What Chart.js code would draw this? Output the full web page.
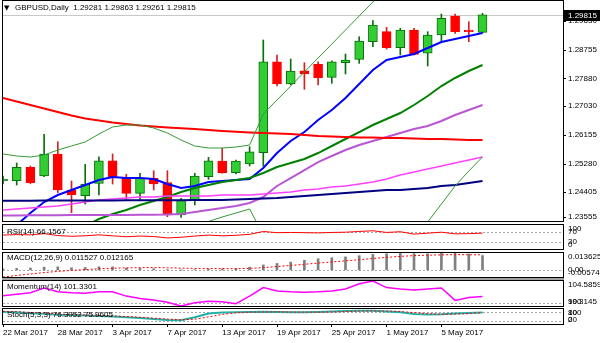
<!DOCTYPE html>
<html>
<head>
<meta charset="utf-8">
<script src="https://cdn.jsdelivr.net/npm/chart.js@4.4.1/dist/chart.umd.min.js"></script>
<style>
html, body { margin: 0; padding: 0; background: #fff; }
#wrap { position: relative; width: 600px; height: 343px; overflow: hidden; }
#wrap canvas { position: absolute; left: 0; top: 0; }
#band { position: absolute; left: 2px; top: 277px; width: 562px; height: 4px; background: #a0a0a0; }
</style>
</head>
<body>
<div id="wrap">
  <div id="band"></div>
  <canvas id="mainChart" width="600" height="343"></canvas>
  <canvas id="rsiChart" width="600" height="343"></canvas>
  <canvas id="macdChart" width="600" height="343"></canvas>
  <canvas id="momChart" width="600" height="343"></canvas>
  <canvas id="stochChart" width="600" height="343"></canvas>
</div>
<script>
// GBPUSD daily, 22 Mar - 10 May 2017
const dates = ["22 Mar 2017", "23 Mar 2017", "24 Mar 2017", "27 Mar 2017", "28 Mar 2017", "29 Mar 2017", "30 Mar 2017", "31 Mar 2017",
    "3 Apr 2017", "4 Apr 2017", "5 Apr 2017", "6 Apr 2017", "7 Apr 2017", "10 Apr 2017", "11 Apr 2017", "12 Apr 2017",
    "13 Apr 2017", "14 Apr 2017", "17 Apr 2017", "18 Apr 2017", "19 Apr 2017", "20 Apr 2017", "21 Apr 2017", "24 Apr 2017",
    "25 Apr 2017", "26 Apr 2017", "27 Apr 2017", "28 Apr 2017", "1 May 2017", "2 May 2017", "3 May 2017", "4 May 2017",
    "5 May 2017", "8 May 2017", "9 May 2017", "10 May 2017"];

const openP = [1.24745, 1.24755, 1.25164, 1.24898, 1.25570, 1.24471, 1.24297, 1.24675, 1.25365, 1.24828, 1.24370, 1.24828,
    1.24694, 1.23708, 1.24144, 1.24877, 1.25356, 1.24999, 1.25264, 1.25609, 1.28387, 1.27706, 1.28112, 1.28308,
    1.27911, 1.28357, 1.28460, 1.28998, 1.29303, 1.28815, 1.29355, 1.28644, 1.29202, 1.29782, 1.29355, 1.29281];
const highP = [1.24898, 1.25295, 1.25203, 1.26171, 1.25945, 1.24745, 1.25255, 1.25487, 1.25570, 1.24950, 1.24981, 1.25060,
    1.25060, 1.24217, 1.24981, 1.25469, 1.25744, 1.25387, 1.25793, 1.29050, 1.28592, 1.28470, 1.28357, 1.28387,
    1.28409, 1.28622, 1.29150, 1.29639, 1.29437, 1.29407, 1.29407, 1.29303, 1.29843, 1.29843, 1.29608, 1.29863];
const lowP = [1.24654, 1.24623, 1.24660, 1.24877, 1.24388, 1.23778, 1.24043, 1.24318, 1.24654, 1.24187, 1.24187, 1.24471,
    1.23656, 1.23637, 1.24013, 1.24797, 1.24981, 1.24959, 1.25203, 1.25203, 1.27645, 1.27680, 1.27545, 1.27676,
    1.27728, 1.28012, 1.28338, 1.28845, 1.28775, 1.28592, 1.28592, 1.28256, 1.28967, 1.29254, 1.28998, 1.29261];
const closeP = [1.24807, 1.25164, 1.24694, 1.25570, 1.24471, 1.24318, 1.24654, 1.25365, 1.24846, 1.24370, 1.24828, 1.24654,
    1.23708, 1.24166, 1.24898, 1.25365, 1.24999, 1.25356, 1.25640, 1.28387, 1.27706, 1.28103, 1.28012, 1.27899,
    1.28387, 1.28439, 1.29019, 1.29507, 1.28815, 1.29355, 1.28613, 1.29202, 1.29712, 1.29303, 1.29303, 1.29815];

// moving averages and bands on the price chart
const blueMA = [null, 1.23402, 1.23769, 1.24104, 1.24318, 1.24471, 1.24623, 1.24776, 1.24868, 1.24837, 1.24837, 1.24807,
    1.24654, 1.24532, 1.24593, 1.24715, 1.24746, 1.24776, 1.24807, 1.25142, 1.25600, 1.25967, 1.26241, 1.26608,
    1.26913, 1.27279, 1.27706, 1.28134, 1.28439, 1.28531, 1.28622, 1.28805, 1.28989, 1.29080, 1.29172, 1.29263];
const greenMA = [null, null, null, null, null, null, 1.23372, 1.23586, 1.23738, 1.23860, 1.24013, 1.24135,
    1.24257, 1.24410, 1.24532, 1.24623, 1.24715, 1.24776, 1.24837, 1.24990, 1.25173, 1.25295, 1.25417, 1.25600,
    1.25814, 1.26028, 1.26241, 1.26455, 1.26638, 1.26821, 1.27065, 1.27340, 1.27645, 1.27890, 1.28103, 1.28286];
const purpleMA = [1.23693, 1.23693, 1.23698, 1.23700, 1.23703, 1.23708, 1.23708, 1.23708, 1.23710, 1.23710, 1.23712, 1.23715,
    1.23720, 1.23738, 1.23799, 1.23860, 1.23921, 1.23982, 1.24074, 1.24257, 1.24593, 1.24837, 1.25081, 1.25325,
    1.25509, 1.25692, 1.25844, 1.25967, 1.26089, 1.26211, 1.26333, 1.26424, 1.26577, 1.26760, 1.26913, 1.27065];
const redMA = [1.27279, 1.27172, 1.27065, 1.26959, 1.26852, 1.26745, 1.26653, 1.26592, 1.26531, 1.26485, 1.26440, 1.26409,
    1.26379, 1.26354, 1.26333, 1.26302, 1.26272, 1.26250, 1.26226, 1.26211, 1.26195, 1.26180, 1.26150, 1.26119,
    1.26104, 1.26089, 1.26073, 1.26073, 1.26058, 1.26058, 1.26043, 1.26028, 1.26028, 1.26012, 1.25997, 1.25997];
const magentaMA = [1.23860, 1.23891, 1.23921, 1.23952, 1.23982, 1.24043, 1.24104, 1.24166, 1.24196, 1.24227, 1.24257, 1.24257,
    1.24288, 1.24288, 1.24288, 1.24288, 1.24318, 1.24318, 1.24318, 1.24349, 1.24379, 1.24410, 1.24471, 1.24501,
    1.24562, 1.24593, 1.24654, 1.24715, 1.24807, 1.24929, 1.25020, 1.25112, 1.25203, 1.25295, 1.25387, 1.25478];
const navyMA = [1.24144, 1.24144, 1.24145, 1.24147, 1.24148, 1.24150, 1.24150, 1.24152, 1.24154, 1.24155, 1.24156, 1.24158,
    1.24160, 1.24162, 1.24164, 1.24166, 1.24166, 1.24181, 1.24196, 1.24211, 1.24227, 1.24257, 1.24288, 1.24318,
    1.24349, 1.24379, 1.24410, 1.24440, 1.24471, 1.24471, 1.24501, 1.24532, 1.24593, 1.24623, 1.24684, 1.24746];
const bandUpper = [1.25570, 1.25509, 1.25478, 1.25539, 1.25692, 1.25814, 1.25936, 1.26180, 1.26394, 1.26455, 1.26455, 1.26363,
    1.26211, 1.25997, 1.25814, 1.25753, 1.25753, 1.25783, 1.25844, 1.26791, 1.27218, 1.27645, 1.28073, 1.28500,
    1.28927, 1.29355, 1.29782, 1.30210, 1.30637, null, null, null, null, null, null, null];
const bandLower = [null, null, null, null, null, null, null, null, null, null, null, null,
    null, null, 1.22944, 1.23509, 1.23647, 1.23769, 1.23891, 1.23097, null, null, null, null,
    null, null, null, null, null, null, 1.22944, 1.23494, 1.24043, 1.24593, 1.25051, 1.25478];

const priceTicks = [1.29630, 1.28755, 1.27880, 1.27030, 1.26155, 1.25280, 1.24405, 1.23555];
const bidPrice = 1.29815;

// indicator windows
const rsi = [58, 60, 59, 64, 56, 53, 55, 59, 55, 51, 54, 52, 46, 49, 54, 58, 55, 57, 61, 73, 68, 69, 68, 67,
    69, 70, 73, 76, 69, 72, 62, 66, 70, 63, 64, 66.1567];
const rsiTicks = [100, 70, 30, 0];

const macdMain = [0.0008, 0.0012, 0.0015, 0.0022, 0.0025, 0.0017, 0.0019, 0.0025, 0.0024, 0.0015, 0.0011, 0.0009,
    0.0002, -0.0003, 0.0001, 0.0006, 0.0008, 0.0010, 0.0022, 0.0040, 0.0052, 0.0063, 0.0078, 0.0090,
    0.0098, 0.0105, 0.0115, 0.0125, 0.0130, 0.0134, 0.0132, 0.0130, 0.0134, 0.013625, 0.0128, 0.011527];
const macdSignal = [-0.005741, -0.0045, -0.0033, -0.0022, -0.0012, -0.0004, 0.0003, 0.0009, 0.0013, 0.0016, 0.0018, 0.0019,
    0.0017, 0.0014, 0.0012, 0.0011, 0.0010, 0.0010, 0.0012, 0.0018, 0.0027, 0.0036, 0.0045, 0.0055,
    0.0064, 0.0073, 0.0082, 0.0092, 0.0101, 0.0109, 0.0115, 0.0119, 0.0121, 0.0123, 0.0122, 0.012165];
const macdTicks = [0.013625, 0, -0.005741];
const macdTickLabels = ["0.013625", "0.00", "-0.005741"];

const momentum = [101.5, 101.8, 102.1, 103.1, 102.3, 102.1, 102.0, 102.3, 102.3, 101.4, 100.9, 100.6,
    100.1, 99.3145, 100.0, 100.3, 100.2, 99.8, 101.4, 103.2, 102.5, 102.3, 102.2, 102.3,
    102.5, 102.9, 104.0, 104.5859, 103.2, 102.9, 102.7, 102.9, 103.1, 100.5, 101.1, 101.3301];
const momTicks = [104.5859, 100, 99.3145];
const momTickLabels = ["104.5859", "100", "99.3145"];

const stochMain = [82, 78, 72, 68, 62, 60, 57, 54, 50, 45, 40, 33, 27, 25, 45, 70, 77, 79, 80, 82, 80, 79, 78, 80,
    83, 86, 88, 88, 84, 78, 66, 64, 65, 70, 74, 76.3052];
const stochSignal = [84, 82, 77, 73, 67, 63, 60, 57, 54, 50, 45, 39, 33, 28, 32, 47, 64, 75, 79, 80, 81, 80, 79, 79,
    80, 83, 86, 87, 87, 83, 76, 69, 65, 66, 70, 75.9605];
const stochTicks = [100, 80, 20, 0];

const FONT = '8px "Liberation Sans", Arial, sans-serif';
const X_MAX = (563 - 3) / 13.7;   // 13.7 px per bar
const last = dates.length - 1;

function pts(arr) {
    return arr.map((v, i) => ({ x: i, y: v }));
}

function line(arr, color, width, extra) {
    return Object.assign({
        type: "line", data: pts(arr), borderColor: color, borderWidth: width,
        pointRadius: 0, tension: 0, clip: 0, order: 1, spanGaps: false
    }, extra || {});
}

// borders, levels, axis labels and window titles
const panelPlugin = {
    id: "panel",
    beforeDatasetsDraw(chart, args, o) {
        const { ctx, chartArea: a, scales: { y } } = chart;
        ctx.save();
        ctx.lineWidth = 1;
        ctx.strokeStyle = "#a8a8a8";
        ctx.setLineDash([2, 2]);
        (o.levels || []).forEach(v => {
            const py = Math.round(y.getPixelForValue(v)) + 0.5;
            ctx.beginPath(); ctx.moveTo(a.left, py); ctx.lineTo(a.right, py); ctx.stroke();
        });
        if (o.bid != null) {
            ctx.setLineDash([]);
            ctx.strokeStyle = "#c8c8c8";
            const py = Math.round(y.getPixelForValue(o.bid)) + 0.5;
            ctx.beginPath(); ctx.moveTo(a.left, py); ctx.lineTo(a.right, py); ctx.stroke();
        }
        ctx.restore();
    },
    afterDraw(chart, args, o) {
        const { ctx, chartArea: a, scales: { y } } = chart;
        ctx.save();
        ctx.strokeStyle = "#000";
        ctx.lineWidth = 1;
        ctx.strokeRect(a.left - 0.5, a.top - 0.5, a.right - a.left + 1, a.bottom - a.top + 1);
        ctx.font = FONT;
        ctx.fillStyle = "#000";
        ctx.textBaseline = "middle";
        o.tickValues.forEach((v, k) => {
            let py = y.getPixelForValue(v);
            py = Math.min(Math.max(py, a.top + 4), a.bottom - 4);
            if (o.tickMarks) {
                ctx.beginPath(); ctx.moveTo(a.right, Math.round(py) + 0.5); ctx.lineTo(a.right + 3, Math.round(py) + 0.5); ctx.stroke();
            }
            ctx.fillText(o.tickLabels[k], a.right + 5, py);
        });
        if (o.bid != null) {
            const py = y.getPixelForValue(o.bid);
            ctx.fillStyle = "#000";
            ctx.fillRect(a.right + 1, Math.round(py) - 5, 37, 11);
            ctx.fillStyle = "#fff";
            ctx.fillText(o.bid.toFixed(5), a.right + 5, py + 0.5);
            ctx.fillStyle = "#000";
        }
        if (o.arrow) {
            ctx.font = '7px "DejaVu Sans", sans-serif';
            ctx.fillText("▼", a.left + 1, a.top + o.titleDy);
            ctx.font = FONT;
        }
        ctx.fillText(o.title, a.left + o.titleDx, a.top + o.titleDy);
        ctx.restore();
    }
};

function panelChart(id, top, bottom, datasets, yMin, yMax, panel, showDates) {
    const tickIdx = dates.map((d, i) => i).filter(i => i % 4 === 0);
    const xScale = {
        type: "linear", min: 0, max: X_MAX, offset: false, display: showDates,
        border: { display: false },
        grid: { drawOnChartArea: false, drawTicks: true, tickLength: 3, color: "#000" },
        afterBuildTicks: s => { s.ticks = tickIdx.map(v => ({ value: v })); },
        ticks: {
            font: { family: '"Liberation Sans", Arial, sans-serif', size: 8 }, color: "#000",
            align: "start", maxRotation: 0, autoSkip: false, padding: 1,
            callback: v => dates[v]
        }
    };
    if (showDates) {
        xScale.afterFit = s => { s.height = 343 - bottom; };
    }
    return new Chart(document.getElementById(id), {
        data: { datasets: datasets },
        options: {
            responsive: false,
            animation: false,
            events: [],
            devicePixelRatio: 1,
            layout: { padding: { left: 3, right: 37, top: top + 1, bottom: showDates ? 0 : 343 - bottom } },
            plugins: { legend: { display: false }, tooltip: { enabled: false }, panel: panel },
            scales: {
                x: xScale,
                y: { min: yMin, max: yMax, display: false }
            }
        },
        plugins: [panelPlugin]
    });
}

// price window
const up = closeP.map((c, i) => c >= openP[i]);
panelChart("mainChart", 0, 221, [
    {
        type: "bar", data: dates.map((d, i) => ({ x: i, y: [lowP[i], highP[i]] })),
        backgroundColor: up.map(u => u ? "#0a6e0a" : "#d42020"),
        barThickness: 1, grouped: false, clip: 0, order: 3
    },
    {
        type: "bar", data: dates.map((d, i) => ({ x: i, y: [openP[i], closeP[i]] })),
        backgroundColor: up.map(u => u ? "#32cd32" : "#ff0000"),
        borderColor: up.map(u => u ? "#0a6e0a" : "#ff0000"),
        borderWidth: 1, borderSkipped: false, minBarLength: 1,
        barThickness: 9, grouped: false, clip: 0, order: 2
    },
    line(bandUpper, "#339933", 1),
    line(bandLower, "#339933", 1),
    line(navyMA, "#000080", 2),
    line(magentaMA, "#ff40ff", 1.5),
    line(redMA, "#ff0000", 2),
    line(purpleMA, "#ba55d3", 2),
    line(greenMA, "#008000", 2),
    line(blueMA, "#0000ff", 2)
], 1.23525, 1.3024, {
    title: "GBPUSD,Daily  " + [openP[last], highP[last], lowP[last], closeP[last]].map(v => v.toFixed(5)).join(" "),
    titleDx: 12, titleDy: 7, arrow: true,
    tickValues: priceTicks, tickLabels: priceTicks.map(v => v.toFixed(5)), tickMarks: true,
    bid: bidPrice
}, false);

// RSI window
panelChart("rsiChart", 224, 249, [
    line(rsi, "#ff0000", 1)
], 0, 100, {
    title: "RSI(14) " + rsi[last].toFixed(4), titleDx: 4, titleDy: 6.5,
    levels: [70, 30], tickValues: rsiTicks, tickLabels: rsiTicks.map(String)
}, false);

// MACD window
panelChart("macdChart", 252, 277, [
    {
        type: "bar", data: pts(macdMain), backgroundColor: "#808080",
        barThickness: 2, grouped: false, clip: 0, order: 2
    },
    line(macdSignal, "#ff0000", 1, { borderDash: [2, 2] })
], -0.005741, 0.013625, {
    title: "MACD(12,26,9) " + macdMain[last].toFixed(6) + " " + macdSignal[last].toFixed(6), titleDx: 4, titleDy: 5,
    levels: [0], tickValues: macdTicks, tickLabels: macdTickLabels
}, false);

// Momentum window
panelChart("momChart", 280, 306, [
    line(momentum, "#ff00ff", 1.5)
], 99.3145, 104.5859, {
    title: "Momentum(14) " + momentum[last].toFixed(4), titleDx: 4, titleDy: 6,
    levels: [100], tickValues: momTicks, tickLabels: momTickLabels
}, false);

// Stochastic window
panelChart("stochChart", 308, 324, [
    line(stochMain, "#20b2aa", 2),
    line(stochSignal, "#ff0000", 1, { borderDash: [2, 2], order: 0 })
], 0, 100, {
    title: "Stoch(5,3,3) " + stochMain[last].toFixed(4) + " " + stochSignal[last].toFixed(4), titleDx: 4, titleDy: 6,
    levels: [80, 20], tickValues: stochTicks, tickLabels: stochTicks.map(String)
}, true);
</script>
</body>
</html>
